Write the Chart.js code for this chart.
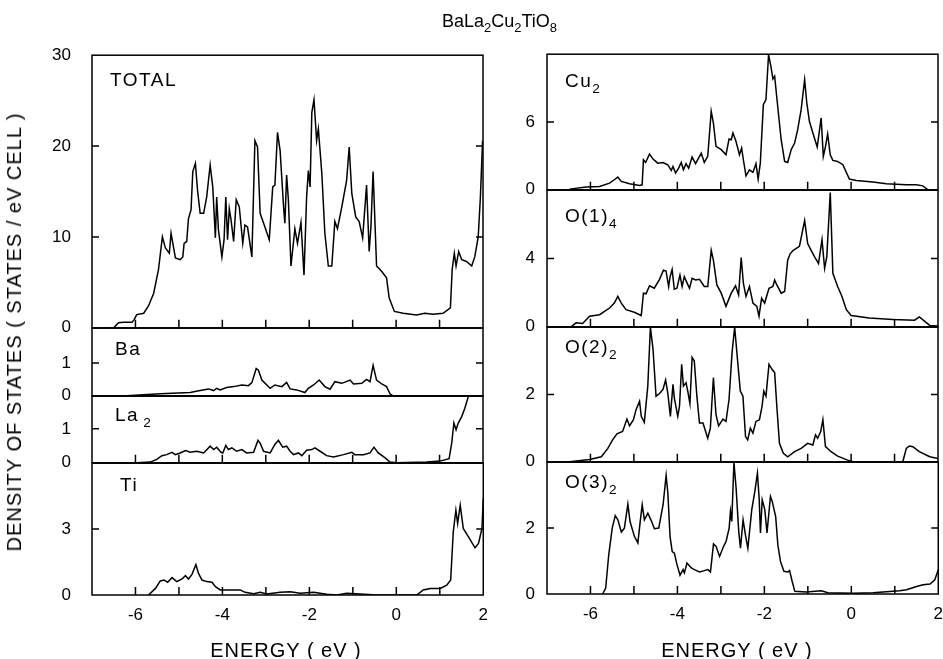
<!DOCTYPE html>
<html>
<head>
<meta charset="utf-8">
<script src="https://cdn.jsdelivr.net/npm/chart.js@4.4.0/dist/chart.umd.min.js"></script>
<style>
body{margin:0;background:#fff;}
#wrap{position:relative;width:943px;height:659px;overflow:hidden;font-family:"Liberation Sans",Arial,Helvetica,sans-serif;color:#000;}
#wrap canvas{position:absolute;}
.txt{position:absolute;white-space:nowrap;line-height:1;z-index:5;}
.lbl{font-size:19px;letter-spacing:1.5px;}
.sb{font-size:0.72em;position:relative;top:0.42em;}
</style>
</head>
<body>
<div id="wrap">
  <div class="txt" style="left:442px;top:12px;font-size:18px">BaLa<span class="sb">2</span>Cu<span class="sb">2</span>TiO<span class="sb">8</span></div>
  <div class="txt" style="left:14px;top:332px;font-size:20px;letter-spacing:1px;transform:translate(-50%,-50%) rotate(-90deg)">DENSITY OF STATES ( STATES / eV CELL )</div>
  <div class="txt" style="left:286px;top:640px;font-size:20px;letter-spacing:1px;transform:translateX(-50%)">ENERGY ( eV )</div>
  <div class="txt" style="left:737px;top:640px;font-size:20px;letter-spacing:1px;transform:translateX(-50%)">ENERGY ( eV )</div>

  <div class="txt lbl" style="left:110px;top:70px">TOTAL</div>
  <div class="txt lbl" style="left:115px;top:339px">Ba</div>
  <div class="txt lbl" style="left:115px;top:405px">La<span class="sb" style="margin-left:4px">2</span></div>
  <div class="txt lbl" style="left:120px;top:475px">Ti</div>
  <div class="txt lbl" style="left:565px;top:71px">Cu<span class="sb">2</span></div>
  <div class="txt lbl" style="left:565px;top:206px">O(1)<span class="sb">4</span></div>
  <div class="txt lbl" style="left:565px;top:337px">O(2)<span class="sb">2</span></div>
  <div class="txt lbl" style="left:565px;top:472px">O(3)<span class="sb">2</span></div>
</div>
<script>
//Global options
Chart.defaults.font.family = '"Liberation Sans", Arial, Helvetica, sans-serif';
Chart.defaults.font.size = 17;
Chart.defaults.color = '#000';

// energy axis ticks (eV)
var xTickVals = [-6, -4, -2, 0, 2];
var xMinorVals = [-6, -5, -4, -3, -2, -1, 0, 1];

// TOTAL
var totalE = [-6.60, -6.50, -6.39, -6.27, -6.08, -6.03, -5.97, -5.81, -5.70, -5.58,
  -5.47, -5.38, -5.31, -5.22, -5.18, -5.08, -4.97, -4.91, -4.88, -4.82,
  -4.78, -4.72, -4.68, -4.62, -4.57, -4.51, -4.43, -4.36, -4.28, -4.22,
  -4.16, -4.13, -4.09, -4.01, -3.96, -3.92, -3.88, -3.84, -3.80, -3.74,
  -3.68, -3.61, -3.53, -3.48, -3.42, -3.32, -3.25, -3.19, -3.13, -3.02,
  -2.92, -2.84, -2.79, -2.73, -2.67, -2.59, -2.56, -2.52, -2.48, -2.42,
  -2.33, -2.27, -2.19, -2.12, -2.06, -2.02, -1.98, -1.94, -1.89, -1.83,
  -1.79, -1.71, -1.64, -1.56, -1.48, -1.41, -1.35, -1.25, -1.14, -1.08,
  -1.02, -0.93, -0.85, -0.77, -0.68, -0.62, -0.58, -0.53, -0.45, -0.33,
  -0.22, -0.16, -0.04, 0.16, 0.47, 0.66, 0.85, 1.08, 1.25, 1.29,
  1.34, 1.38, 1.44, 1.51, 1.62, 1.74, 1.81, 1.89, 1.94, 1.99];
var totalDos = [0, 0, 0.55, 0.6, 0.6, 0.9, 1.45, 1.6, 2.4, 3.8,
  6.4, 10.0, 8.8, 8.2, 10.4, 7.7, 7.5, 7.8, 9.3, 9.5,
  12.0, 13.0, 17.2, 18.1, 15.1, 12.6, 12.6, 14.4, 17.9, 15.5,
  9.9, 14.4, 10.8, 7.8, 9.7, 14.4, 9.7, 13.1, 11.9, 9.5,
  14.1, 13.3, 9.3, 11.3, 11.1, 7.8, 20.6, 19.9, 12.6, 11.1,
  9.7, 15.5, 15.7, 21.5, 19.5, 13.3, 11.5, 16.8, 14.1, 6.8,
  10.9, 9.3, 11.6, 5.8, 14.4, 17.3, 15.5, 23.7, 25.1, 20.6,
  21.9, 17.0, 10.4, 6.8, 6.8, 11.7, 10.9, 13.3, 16.2, 19.9,
  14.8, 12.2, 11.7, 9.9, 15.7, 8.4, 11.1, 17.2, 6.8, 6.2,
  5.5, 3.3, 1.8, 1.6, 1.4, 1.6, 1.5, 1.6, 2.2, 6.4,
  8.2, 6.8, 8.4, 7.5, 7.3, 6.8, 7.8, 10.0, 14.4, 20.6];

// Ba
var baE = [-6.60, -6.20, -5.43, -4.74, -4.51, -4.32, -4.20, -4.13, -4.05, -3.90, -3.74,
  -3.55, -3.40, -3.32, -3.22, -3.17, -3.09, -2.90, -2.79, -2.63, -2.52,
  -2.44, -2.29, -2.10, -2.02, -1.90, -1.77, -1.64, -1.52, -1.41, -1.25,
  -1.06, -0.98, -0.79, -0.68, -0.60, -0.53, -0.45, -0.33, -0.22, -0.14,
  -0.07, 2.0];
var baDos = [0, 0, 0.06, 0.10, 0.16, 0.21, 0.16, 0.23, 0.18, 0.25, 0.28,
  0.33, 0.31, 0.40, 0.83, 0.78, 0.48, 0.23, 0.33, 0.28, 0.41,
  0.21, 0.18, 0.10, 0.23, 0.33, 0.48, 0.28, 0.20, 0.43, 0.38,
  0.48, 0.36, 0.38, 0.50, 0.43, 0.93, 0.48, 0.36, 0.28, 0.06,
  0, 0];

// La2
var laE = [-5.97, -5.66, -5.51, -5.39, -5.28, -5.16, -5.08, -4.97, -4.85, -4.74,
  -4.59, -4.43, -4.28, -4.20, -4.13, -4.03, -3.99, -3.92, -3.86, -3.78,
  -3.67, -3.55, -3.44, -3.28, -3.18, -3.13, -3.05, -2.90, -2.79, -2.71,
  -2.61, -2.52, -2.44, -2.36, -2.25, -2.17, -2.06, -1.94, -1.87, -1.75,
  -1.60, -1.44, -1.21, -1.02, -0.95, -0.75, -0.60, -0.51, -0.41, -0.26,
  -0.14, 0.01, 0.70, 1.01, 1.22, 1.28, 1.33, 1.38, 1.43, 1.51,
  1.58, 1.66, 1.75];
var laDos = [0, 0.02, 0.10, 0.21, 0.24, 0.31, 0.24, 0.29, 0.36, 0.31,
  0.34, 0.29, 0.49, 0.39, 0.46, 0.31, 0.29, 0.51, 0.39, 0.44,
  0.34, 0.39, 0.29, 0.31, 0.66, 0.58, 0.34, 0.29, 0.54, 0.66,
  0.46, 0.49, 0.34, 0.24, 0.29, 0.21, 0.37, 0.39, 0.44, 0.34,
  0.21, 0.17, 0.24, 0.31, 0.24, 0.24, 0.29, 0.46, 0.29, 0.15,
  0.02, 0, 0.02, 0.05, 0.12, 0.58, 1.17, 0.97, 1.17, 1.36,
  1.60, 1.94, 2.3];

// Ti
var tiE = [-5.70, -5.54, -5.43, -5.34, -5.26, -5.16, -5.05, -4.93, -4.85, -4.78,
  -4.70, -4.61, -4.55, -4.47, -4.36, -4.24, -4.16, -4.05, -3.93, -3.74,
  -3.59, -3.48, -3.28, -3.13, -2.98, -2.67, -2.44, -2.21, -1.90, -1.60,
  -1.37, -1.14, -0.83, -0.45, 0.47, 0.62, 0.78, 1.01, 1.16, 1.25,
  1.31, 1.37, 1.41, 1.47, 1.54, 1.66, 1.81, 1.89, 1.97, 2.00];
var tiDos = [0, 0.30, 0.64, 0.68, 0.58, 0.79, 0.61, 0.73, 0.88, 0.73,
  0.94, 1.39, 0.98, 0.68, 0.61, 0.58, 0.38, 0.23, 0.23, 0.23,
  0.23, 0.12, 0.06, 0.12, 0.05, 0.12, 0.15, 0.08, 0.12, 0.03,
  0, 0.08, 0.05, 0, 0, 0.23, 0.30, 0.30, 0.45, 0.68,
  2.88, 3.86, 3.26, 4.09, 3.03, 2.65, 2.15, 2.35, 3.03, 4.4];

// Cu2
var cuE = [-6.48, -6.10, -5.79, -5.56, -5.45, -5.37, -5.29, -5.10, -4.87, -4.81,
  -4.78, -4.73, -4.64, -4.56, -4.45, -4.33, -4.22, -4.14, -4.10, -4.04,
  -3.97, -3.91, -3.86, -3.80, -3.74, -3.66, -3.58, -3.45, -3.38, -3.30,
  -3.22, -3.17, -3.11, -2.99, -2.88, -2.81, -2.76, -2.72, -2.65, -2.57,
  -2.52, -2.48, -2.42, -2.34, -2.26, -2.19, -2.14, -2.09, -2.02, -1.96,
  -1.90, -1.84, -1.80, -1.76, -1.69, -1.61, -1.53, -1.46, -1.38, -1.30,
  -1.23, -1.15, -1.07, -1.02, -0.96, -0.88, -0.78, -0.69, -0.64, -0.59,
  -0.54, -0.48, -0.42, -0.31, -0.19, -0.04, 0.12, 0.50, 0.81, 1.27,
  1.50, 1.65, 1.77, 2.0];
var cuDos = [0.06, 0.24, 0.30, 0.59, 0.89, 1.12, 0.74, 0.53, 0.38, 0.44,
  2.66, 2.42, 3.16, 2.72, 2.36, 2.42, 2.22, 1.71, 2.07, 1.48,
  1.92, 2.42, 1.77, 2.31, 1.92, 2.90, 2.31, 3.25, 2.42, 2.96,
  6.95, 5.91, 3.84, 3.55, 3.10, 4.49, 4.43, 5.03, 4.29, 3.10,
  3.69, 2.66, 1.24, 1.77, 1.54, 2.31, 0.95, 2.36, 7.54, 7.98,
  11.97, 10.79, 9.81, 10.05, 7.39, 4.43, 2.51, 2.42, 3.55, 4.14,
  5.32, 7.09, 9.75, 7.69, 6.06, 5.03, 3.78, 6.36, 2.96, 3.84,
  4.94, 3.10, 2.60, 2.51, 2.22, 0.95, 0.83, 0.68, 0.53, 0.44,
  0.44, 0.35, 0, 0];

// O(1)4
var o1E = [-6.45, -6.33, -6.18, -6.02, -5.79, -5.56, -5.45, -5.37, -5.29, -5.18,
  -4.99, -4.83, -4.78, -4.72, -4.64, -4.53, -4.41, -4.32, -4.26, -4.20,
  -4.17, -4.12, -4.07, -4.01, -3.94, -3.89, -3.84, -3.78, -3.72, -3.66,
  -3.58, -3.49, -3.38, -3.30, -3.22, -3.17, -3.09, -2.99, -2.88, -2.76,
  -2.66, -2.59, -2.53, -2.48, -2.42, -2.34, -2.26, -2.17, -2.12, -2.06,
  -1.99, -1.89, -1.80, -1.76, -1.71, -1.61, -1.53, -1.46, -1.40, -1.33,
  -1.19, -1.07, -1.00, -0.92, -0.84, -0.75, -0.67, -0.61, -0.56, -0.48,
  -0.42, -0.31, -0.21, -0.11, 0.00, 0.42, 0.96, 1.46, 1.57, 1.69,
  1.81, 2.00];
var o1Dos = [0, 0.23, 0.19, 0.62, 0.71, 1.10, 1.39, 1.78, 1.39, 1.00,
  0.85, 0.66, 1.97, 1.93, 2.40, 2.26, 2.78, 3.32, 3.27, 2.36,
  2.90, 3.36, 2.20, 2.26, 3.03, 2.36, 2.94, 2.59, 2.26, 2.84,
  2.74, 2.78, 2.36, 2.36, 4.48, 3.90, 2.45, 1.97, 1.20, 1.97,
  2.40, 1.87, 4.06, 2.55, 1.78, 2.36, 1.39, 1.20, 0.62, 1.68,
  1.39, 2.26, 2.36, 2.74, 2.45, 1.97, 2.07, 3.90, 4.29, 4.48,
  4.71, 6.22, 4.87, 4.48, 4.10, 3.71, 5.10, 3.42, 4.10, 7.86,
  3.13, 2.36, 1.78, 1.00, 0.66, 0.52, 0.43, 0.39, 0.58, 0.33,
  0.08, 0.04];

// O(2)2
var o2E = [-6.48, -6.02, -5.75, -5.60, -5.49, -5.39, -5.26, -5.16, -5.10, -5.01,
  -4.95, -4.87, -4.83, -4.76, -4.68, -4.62, -4.56, -4.49, -4.41, -4.33,
  -4.27, -4.22, -4.16, -4.10, -4.07, -3.99, -3.95, -3.90, -3.86, -3.80,
  -3.76, -3.71, -3.66, -3.61, -3.55, -3.49, -3.41, -3.30, -3.24, -3.17,
  -3.11, -3.05, -2.95, -2.88, -2.81, -2.74, -2.68, -2.63, -2.55, -2.49,
  -2.43, -2.38, -2.32, -2.26, -2.19, -2.11, -2.05, -2.01, -1.96, -1.89,
  -1.82, -1.76, -1.71, -1.65, -1.56, -1.46, -1.30, -1.15, -1.00, -0.88,
  -0.82, -0.77, -0.70, -0.65, -0.59, -0.46, -0.31, -0.08, 0.04, 1.19,
  1.27, 1.34, 1.42, 1.57, 1.81, 2.00];
var o2Dos = [0, 0.07, 0.15, 0.40, 0.65, 0.83, 0.90, 1.27, 1.07, 1.25,
  1.55, 1.80, 1.35, 1.17, 2.25, 4.0, 3.35, 1.95, 2.03, 2.15,
  2.43, 2.05, 1.35, 2.30, 1.90, 1.35, 1.65, 2.90, 2.25, 2.35,
  2.10, 1.73, 3.10, 3.00, 1.95, 1.15, 1.15, 0.70, 1.00, 2.50,
  1.40, 1.07, 1.27, 1.20, 1.85, 3.25, 4.0, 3.25, 2.10, 1.95,
  0.75, 0.65, 1.00, 0.85, 1.20, 1.25, 1.65, 2.10, 1.95, 2.90,
  2.75, 2.65, 1.65, 0.55, 0.25, 0.15, 0.30, 0.40, 0.55, 0.50,
  0.80, 0.70, 0.90, 1.25, 0.45, 0.30, 0.17, 0.05, 0, 0,
  0.40, 0.47, 0.45, 0.30, 0.15, 0.10];

// O(3)2
var o3E = [-5.72, -5.65, -5.58, -5.50, -5.43, -5.37, -5.29, -5.22, -5.14, -5.09,
  -4.99, -4.91, -4.86, -4.81, -4.76, -4.68, -4.60, -4.53, -4.43, -4.33,
  -4.26, -4.22, -4.17, -4.12, -4.07, -4.01, -3.94, -3.87, -3.84, -3.78,
  -3.68, -3.61, -3.49, -3.38, -3.30, -3.24, -3.17, -3.11, -3.03, -2.94,
  -2.88, -2.81, -2.78, -2.75, -2.70, -2.65, -2.59, -2.55, -2.49, -2.43,
  -2.38, -2.29, -2.22, -2.16, -2.12, -2.09, -2.05, -1.99, -1.94, -1.86,
  -1.82, -1.74, -1.69, -1.63, -1.55, -1.46, -1.42, -1.36, -1.30, -1.04,
  -0.69, -0.54, 0.04, 0.50, 1.11, 1.27, 1.50, 1.65, 1.81, 1.92, 2.00];
var o3Dos = [0, 0.18, 1.19, 2.00, 2.38, 2.25, 1.88, 2.00, 2.73, 2.20,
  1.75, 1.55, 2.15, 2.71, 2.25, 2.45, 2.22, 1.98, 2.00, 2.71,
  3.6, 3.06, 1.75, 1.29, 1.24, 0.89, 0.57, 0.74, 0.64, 0.94,
  0.79, 0.74, 0.67, 0.71, 0.74, 0.67, 1.52, 1.44, 1.14, 1.44,
  1.60, 2.00, 2.51, 2.20, 4.0, 3.21, 1.90, 1.39, 2.25, 1.75,
  1.39, 2.56, 3.11, 3.67, 2.91, 1.85, 2.86, 2.56, 1.85, 2.96,
  2.81, 2.35, 1.49, 0.99, 0.69, 0.67, 0.71, 0.38, 0.08, 0.06,
  0.10, 0.04, 0.02, 0.04, 0.10, 0.13, 0.23, 0.28, 0.30, 0.43, 0.74];

// panels: page placement of each plot box
var panels = [
  {e: totalE, d: totalDos, left: 92, top: 55, w: 391, h: 273, max: 30, ticks: [0, 10, 20, 30], pad: 21, xTicks: true, xLabels: false},
  {e: baE, d: baDos, left: 92, top: 328, w: 391, h: 68, max: 2.06, ticks: [0, 1], pad: 21, xTicks: false, xLabels: false},
  {e: laE, d: laDos, left: 92, top: 396, w: 391, h: 67, max: 1.96, ticks: [0, 1], pad: 21, xTicks: true, xLabels: false},
  {e: tiE, d: tiDos, left: 92, top: 463, w: 391, h: 132, max: 6, ticks: [0, 3], pad: 21, xTicks: true, xLabels: true},
  {e: cuE, d: cuDos, left: 547, top: 54, w: 391, h: 136, max: 12, ticks: [0, 6], pad: 12, xTicks: true, xLabels: false},
  {e: o1E, d: o1Dos, left: 547, top: 190, w: 391, h: 137, max: 8, ticks: [0, 4], pad: 12, xTicks: true, xLabels: false},
  {e: o2E, d: o2Dos, left: 547, top: 327, w: 391, h: 135, max: 4, ticks: [0, 2], pad: 12, xTicks: true, xLabels: false},
  {e: o3E, d: o3Dos, left: 547, top: 462, w: 391, h: 132, max: 4, ticks: [0, 2], pad: 12, xTicks: true, xLabels: true}
];

var AXW = 70, PADT = 12, PADR = 10, PADB = 12, XH = 40;

// frame + inward ticks
function framePlugin(p) {
  return {
    id: 'frameTicks',
    afterDatasetsDraw: function (chart) {
      var a = chart.chartArea, ctx = chart.ctx;
      var xs = chart.scales.x, ys = chart.scales.y;
      ctx.save();
      ctx.strokeStyle = '#000';
      ctx.lineWidth = 1.5;
      ctx.strokeRect(a.left, a.top, a.right - a.left, a.bottom - a.top);
      ctx.beginPath();
      if (p.xTicks) {
        xMinorVals.forEach(function (v) {
          var px = xs.getPixelForValue(v);
          ctx.moveTo(px, a.bottom);
          ctx.lineTo(px, a.bottom - 8);
        });
      }
      p.ticks.forEach(function (v) {
        if (v <= 0 || v >= p.max) return;
        var py = ys.getPixelForValue(v);
        ctx.moveTo(a.left, py); ctx.lineTo(a.left + 7, py);
        ctx.moveTo(a.right, py); ctx.lineTo(a.right - 7, py);
      });
      ctx.stroke();
      ctx.restore();
    }
  };
}

function buildChart(cv, p, w, h) {
  cv.width = w; cv.height = h;
  cv.style.width = w + 'px'; cv.style.height = h + 'px';
  var pts = p.e.map(function (e, i) { return {x: e, y: p.d[i]}; });
  return new Chart(cv, {
    type: 'line',
    data: {
      datasets: [{
        data: pts,
        borderColor: '#000',
        borderWidth: 1.5,
        pointRadius: 0,
        fill: false,
        tension: 0
      }]
    },
    options: {
      responsive: false,
      animation: false,
      devicePixelRatio: 1,
      layout: {padding: {left: 0, top: PADT, right: PADR, bottom: p.xLabels ? 0 : PADB}},
      plugins: {legend: {display: false}, tooltip: {enabled: false}},
      scales: {
        x: {
          type: 'linear', min: -7, max: 2,
          display: p.xLabels,
          grid: {display: false, drawTicks: false},
          border: {display: false},
          ticks: {padding: 10, maxRotation: 0, autoSkip: false},
          afterBuildTicks: function (s) { s.ticks = xTickVals.map(function (v) { return {value: v}; }); },
          afterFit: function (s) { if (p.xLabels) s.height = XH; }
        },
        y: {
          type: 'linear', min: 0, max: p.max,
          grid: {display: false, drawTicks: false},
          border: {display: false},
          ticks: {padding: p.pad, autoSkip: false},
          afterBuildTicks: function (s) { s.ticks = p.ticks.map(function (v) { return {value: v}; }); },
          afterFit: function (s) { s.width = AXW; }
        }
      }
    },
    plugins: [framePlugin(p)]
  });
}

function makePanel(p) {
  var cv = document.createElement('canvas');
  document.getElementById('wrap').appendChild(cv);
  var w = AXW + p.w + PADR;
  var h = PADT + p.h + (p.xLabels ? XH : PADB);
  var ch = buildChart(cv, p, w, h);
  var a = ch.chartArea;
  var dw = Math.round(p.w - (a.right - a.left));
  var dh = Math.round(p.h - (a.bottom - a.top));
  if (dw !== 0 || dh !== 0) {
    // let the layout settle to the wanted plot size
    ch.destroy();
    ch = buildChart(cv, p, w + dw, h + dh);
    a = ch.chartArea;
  }
  cv.style.left = Math.round(p.left - a.left) + 'px';
  cv.style.top = Math.round(p.top - a.top) + 'px';
  return ch;
}

panels.forEach(makePanel);
</script>
</body>
</html>
